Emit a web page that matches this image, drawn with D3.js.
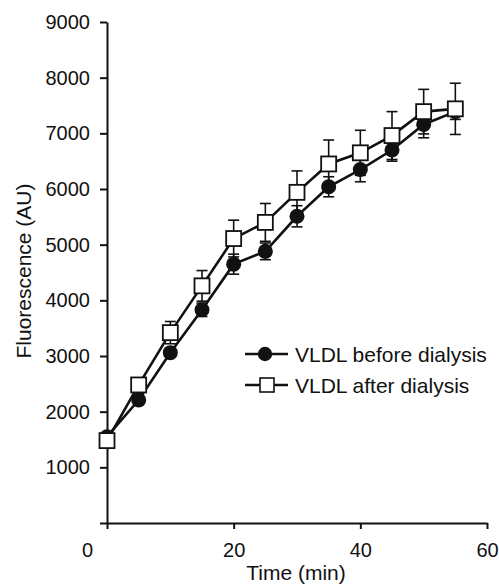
<!DOCTYPE html>
<html>
<head>
<meta charset="utf-8">
<script src="https://cdn.jsdelivr.net/npm/d3@7"></script>
<style>
    body { margin: 0; background: #fff; }
    svg { display: block; font-family: "Liberation Sans", Arial, Helvetica, sans-serif; }
</style>
</head>
<body>
<div id="view"></div>
<script>
// data
const times = [0, 5, 10, 15, 20, 25, 30, 35, 40, 45, 50, 55];
const beforeValues = [1550, 2210, 3060, 3830, 4650, 4880, 5510, 6040, 6350, 6700, 7160, 7390];
const beforeErrors = [60, 80, 80, 120, 180, 150, 190, 180, 220, 200, 240, 140];
const afterValues = [1480, 2480, 3420, 4260, 5110, 5400, 5940, 6450, 6650, 6960, 7390, 7440];
const afterErrors = [60, 100, 200, 275, 330, 340, 385, 430, 405, 430, 400, 460];
const xTicks = [0, 20, 40, 60];
const yTicks = [0, 1000, 2000, 3000, 4000, 5000, 6000, 7000, 8000, 9000];
const seriesNames = ["VLDL before dialysis", "VLDL after dialysis"];

const width = 499;
const height = 584;

const svg = d3.select("#view")
    .append("svg")
        .attr("width", width)
        .attr("height", height);

// scales
const x = d3.scaleLinear().domain([0, 60]).range([107, 487]);
const y = d3.scaleLinear().domain([0, 9000]).range([523, 22]);

// X axis
const xAxis = svg.append("g")
    .attr("transform", `translate(0, ${y(0)})`)
    .call(d3.axisBottom(x).tickValues(xTicks).tickSize(6).tickSizeOuter(0).tickPadding(14));
xAxis.selectAll("text")
    .attr("font-size", 20)
    .attr("dx", d => d === 0 ? -20 : 0);

// Y axis
const yAxis = svg.append("g")
    .attr("transform", `translate(${x(0)}, 0)`)
    .call(d3.axisLeft(y).tickValues(yTicks).tickSize(7).tickSizeOuter(0).tickPadding(10)
        .tickFormat(d => d === 0 ? "" : d));
yAxis.selectAll("text").attr("font-size", 20);

svg.selectAll(".domain, .tick line")
    .attr("stroke", "#111")
    .attr("stroke-width", 2);
svg.selectAll(".tick text").attr("fill", "#111");

// axis titles
svg.append("text")
    .attr("x", 296)
    .attr("y", 580)
    .attr("text-anchor", "middle")
    .attr("font-size", 21)
    .attr("fill", "#111")
    .text("Time (min)");

svg.append("text")
    .attr("transform", "translate(31, 271) rotate(-90)")
    .attr("text-anchor", "middle")
    .attr("font-size", 21)
    .attr("fill", "#111")
    .text("Fluorescence (AU)");

const before = times.map((t, i) => ({t: t, v: beforeValues[i], e: beforeErrors[i]}));
const after = times.map((t, i) => ({t: t, v: afterValues[i], e: afterErrors[i]}));

// error bars
[before, after].forEach(series => {
    const g = svg.append("g").attr("stroke", "#111").attr("stroke-width", 1.6);
    series.forEach(d => {
        g.append("line")
            .attr("x1", x(d.t)).attr("x2", x(d.t))
            .attr("y1", y(d.v - d.e)).attr("y2", y(d.v + d.e));
        [d.v - d.e, d.v + d.e].forEach(c => {
            g.append("line")
                .attr("x1", x(d.t) - 5.5).attr("x2", x(d.t) + 5.5)
                .attr("y1", y(c)).attr("y2", y(c));
        });
    });
});

// lines
const line = d3.line().x(d => x(d.t)).y(d => y(d.v));
[before, after].forEach(series => {
    svg.append("path")
        .datum(series)
        .attr("fill", "none")
        .attr("stroke", "#111")
        .attr("stroke-width", 2.6)
        .attr("d", line);
});

// markers
svg.append("g")
    .selectAll("circle")
    .data(before)
    .join("circle")
        .attr("cx", d => x(d.t))
        .attr("cy", d => y(d.v))
        .attr("r", 7.5)
        .attr("fill", "#111");

svg.append("g")
    .selectAll("rect")
    .data(after)
    .join("rect")
        .attr("x", d => x(d.t) - 7.5)
        .attr("y", d => y(d.v) - 7.5)
        .attr("width", 15)
        .attr("height", 15)
        .attr("fill", "#fff")
        .attr("stroke", "#111")
        .attr("stroke-width", 1.8);

// legend
const legend = svg.append("g");
seriesNames.forEach((name, i) => {
    const ly = 354 + i * 31;
    legend.append("line")
        .attr("x1", 245).attr("x2", 288)
        .attr("y1", ly).attr("y2", ly)
        .attr("stroke", "#111")
        .attr("stroke-width", 2.6);
    if (i === 0) {
        legend.append("circle")
            .attr("cx", 265).attr("cy", ly).attr("r", 7.2)
            .attr("fill", "#111");
    } else {
        legend.append("rect")
            .attr("x", 260).attr("y", ly - 7)
            .attr("width", 14).attr("height", 14)
            .attr("fill", "#fff")
            .attr("stroke", "#111")
            .attr("stroke-width", 1.6);
    }
    legend.append("text")
        .attr("x", 295)
        .attr("y", ly + 7.5)
        .attr("font-size", 21)
        .attr("fill", "#111")
        .text(name);
});
</script>
</body>
</html>
